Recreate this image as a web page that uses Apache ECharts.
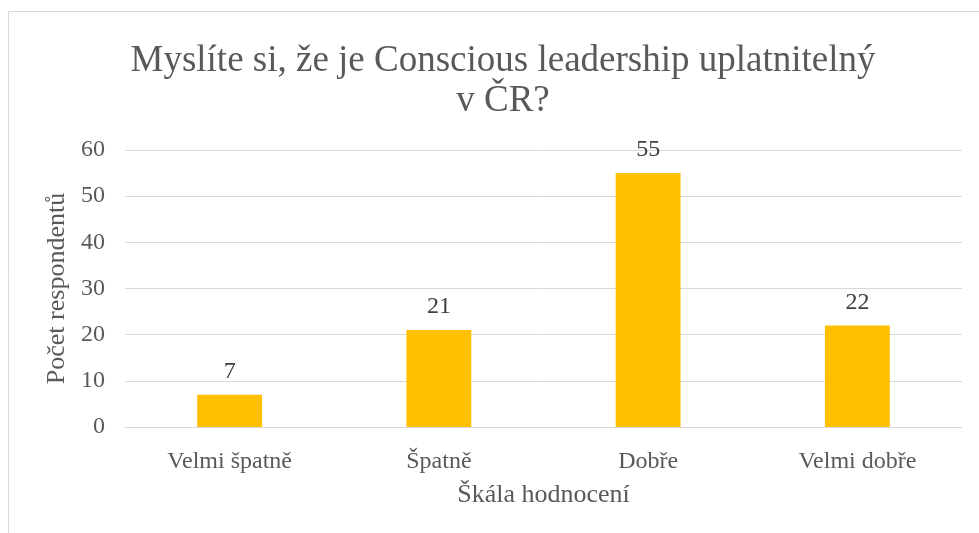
<!DOCTYPE html>
<html>
<head>
<meta charset="utf-8">
<script src="https://cdn.jsdelivr.net/npm/echarts@6/dist/echarts.min.js"></script>
<style>
  html, body { margin: 0; padding: 0; background: #fff; }
  #chart { width: 979px; height: 533px; }
</style>
</head>
<body>
<div id="chart"></div>
<script>
// data
var categories = ['Velmi špatně', 'Špatně', 'Dobře', 'Velmi dobře'];
var counts = [7, 21, 55, 22];
var yTicks = { min: 0, max: 60, interval: 10 };

var fontSerif = '"Liberation Serif", "Times New Roman", serif';
var textColor = '#595959';

var chart = echarts.init(document.getElementById('chart'));

chart.setOption({
    backgroundColor: '#fff',
    animation: false,
    title: {
        text: 'Myslíte si, že je Conscious leadership uplatnitelný\nv ČR?',
        left: 498,
        top: 36,
        textAlign: 'center',
        textStyle: {
            fontFamily: fontSerif,
            fontSize: 37,
            fontWeight: 'normal',
            color: textColor,
            lineHeight: 40
        }
    },
    graphic: [{
        type: 'rect',
        shape: { x: 8.5, y: 11.5, width: 1000, height: 600 },
        style: { fill: 'none', stroke: '#d9d9d9', lineWidth: 1 },
        silent: true
    }],
    grid: { left: 125, right: 17, top: 150, bottom: 106 },
    xAxis: {
        type: 'category',
        data: categories,
        name: 'Škála hodnocení',
        nameLocation: 'middle',
        nameGap: 55,
        nameTextStyle: { fontFamily: fontSerif, fontSize: 26, color: textColor },
        axisLine: { lineStyle: { color: '#d9d9d9', width: 1 } },
        axisTick: { show: false },
        axisLabel: { fontFamily: fontSerif, fontSize: 24, color: textColor, margin: 23 }
    },
    yAxis: {
        type: 'value',
        min: yTicks.min,
        max: yTicks.max,
        interval: yTicks.interval,
        name: 'Počet respondentů',
        nameLocation: 'middle',
        nameGap: 54,
        nameTextStyle: { fontFamily: fontSerif, fontSize: 26, color: textColor },
        axisLine: { show: false },
        axisTick: { show: false },
        splitLine: { lineStyle: { color: '#d9d9d9', width: 1 } },
        axisLabel: { fontFamily: fontSerif, fontSize: 24, color: textColor, margin: 20 }
    },
    series: [{
        type: 'bar',
        data: counts,
        barWidth: '31%',
        itemStyle: { color: '#FFC000' },
        label: {
            show: true,
            position: 'top',
            distance: 11,
            fontFamily: fontSerif,
            fontSize: 24,
            color: '#404040'
        }
    }]
});
</script>
</body>
</html>
